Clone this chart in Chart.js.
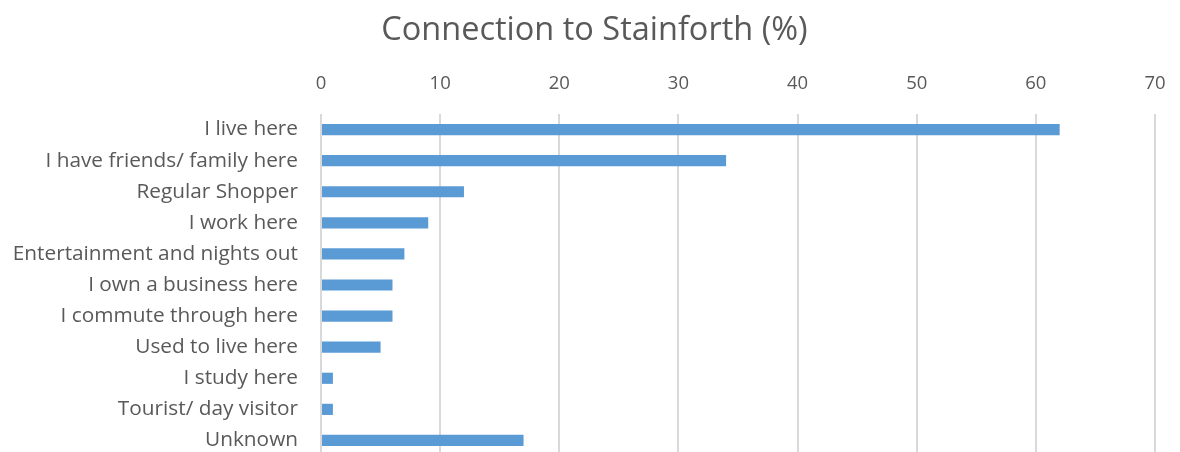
<!DOCTYPE html>
<html>
<head>
<meta charset="utf-8">
<script src="https://cdn.jsdelivr.net/npm/chart.js@4"></script>
<style>
  html, body { margin: 0; padding: 0; background: #fff; overflow: hidden; }
</style>
</head>
<body>
<!-- canvas un po' più alto della finestra: il fondo del grafico viene tagliato come nell'originale -->
<canvas id="chart" width="1180" height="456"></canvas>
<script>
// categorie e valori
const categories = [
    "I live here",
    "I have friends/ family here",
    "Regular Shopper",
    "I work here",
    "Entertainment and nights out",
    "I own a business here",
    "I commute through here",
    "Used to live here",
    "I study here",
    "Tourist/ day visitor",
    "Unknown"
];
const values = [62, 34, 12, 9, 7, 6, 6, 5, 1, 1, 17];
const xTicks = [0, 10, 20, 30, 40, 50, 60, 70];

const TEXT = "#595959";
const FONT = "'Open Sans', sans-serif";

const ctx = document.getElementById("chart").getContext("2d");

new Chart(ctx, {
    type: "bar",
    data: {
        labels: categories,
        datasets: [{
            label: "Connection",
            data: values,
            backgroundColor: "#5B9BD5",
            barPercentage: 0.36,
            categoryPercentage: 1.0
        }]
    },
    options: {
        indexAxis: "y",
        responsive: false,
        animation: false,
        layout: { padding: { left: 9, right: 0, top: 0, bottom: 0 } },
        plugins: {
            legend: { display: false },
            tooltip: { enabled: false },
            title: {
                display: true,
                text: "Connection to Stainforth (%)",
                color: TEXT,
                font: { family: FONT, size: 32.5, weight: "normal" },
                padding: { top: 11, bottom: 10 }
            }
        },
        scales: {
            x: {
                position: "top",
                min: 0,
                max: 70,
                afterBuildTicks: s => { s.ticks = xTicks.map(v => ({ value: v })); },
                ticks: {
                    color: TEXT,
                    font: { family: FONT, size: 18.5 },
                    padding: 19
                },
                grid: { color: "#d9d9d9", lineWidth: 2, drawTicks: false },
                border: { display: false },
                afterFit: s => { s.height = 54; s.paddingLeft = 0; s.paddingRight = 25; }
            },
            y: {
                ticks: {
                    color: TEXT,
                    font: { family: FONT, size: 20.8 },
                    padding: 15
                },
                grid: { display: false },
                border: { display: false },
                afterFit: s => { s.width = 312; s.paddingTop = 0; s.paddingBottom = 0; }
            }
        }
    }
});
</script>
</body>
</html>
